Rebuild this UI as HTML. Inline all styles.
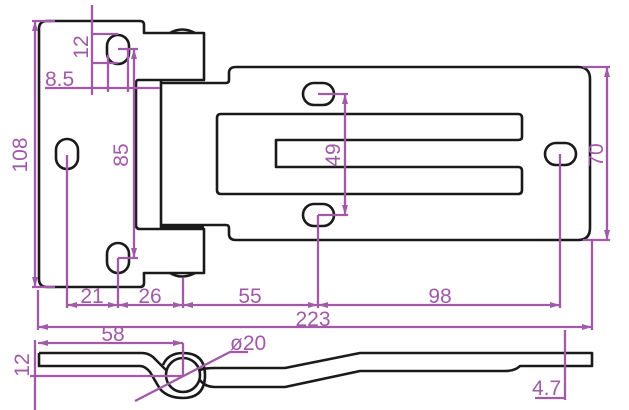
<!DOCTYPE html>
<html><head><meta charset="utf-8"><style>
html,body{margin:0;padding:0;background:#fff;}
svg{display:block;}
text{font-family:"Liberation Sans",sans-serif;fill:#a05aa8;font-size:21px;}
</style></head><body>
<svg width="629" height="410" viewBox="0 0 629 410" xmlns="http://www.w3.org/2000/svg">
<g fill="none" stroke="#1a1a1a" stroke-width="2.6" stroke-linejoin="round">
<path d="M47 21 H140 Q144 21 144 25 V33 H204 V80 H138 Q136 80 136 84 V225 Q136 229 140 229 H204 V273 H144 V283 Q144 287 140 287 H47 Q39 287 39 279 V29 Q39 21 47 21 Z"/>
<path d="M170 33 Q182 26 195 33"/><path d="M170 273 Q182 280 195 273"/>
<path d="M161 80 V229"/>
<path d="M161 83 H226 Q229 83 229 80 V73 Q229 67 236 67 H578 Q590 67 590 79 V228 Q590 240 578 240 H236 Q229 240 229 234 V228 Q229 225 226 225 H161" />
<path d="M161 226 H204" stroke-width="4"/>
<path d="M221 114 H518 Q522 114 522 118 V137 Q522 140 518 140 H276 V167 H518 Q522 167 522 171 V190 Q522 194 518 194 H221 Q217 194 217 190 V118 Q217 114 221 114 Z"/>
<rect x="107" y="35" width="22" height="29" rx="11"/>
<rect x="107" y="243" width="22" height="30" rx="11"/>
<rect x="56" y="139" width="22" height="30" rx="11"/>
<rect x="303" y="83" width="31" height="22" rx="11"/>
<rect x="303" y="204" width="31" height="22" rx="11"/>
<rect x="545" y="143" width="31" height="22" rx="11"/>
<path d="M39 353 H142 Q150 353 156 360 L166 370"/>
<path d="M39 353 V366 H140 Q145 366 150 372 L160 389 Q168 398 183 398 Q205 398 205 375 Q205 353 183 353 Q168 353 163 365"/>
<circle cx="183" cy="375" r="17"/>
<path d="M200 370 Q205 368 215 368 H285 L360 353 H592 V366 H520 Q515 371 505 371 H360 L285 387 H215 Q205 387 200 380"/>
</g>
<g stroke="#a05aa8" stroke-width="2.3" fill="none">
<path d="M35 21 V287 M32 21 H55 M32 287 H55"/>
<path d="M92 5 V95 M92 34 H118 M92 63 H118"/>
<path d="M45 88 H160 M108 55 V92 M128 48 V92"/>
<path d="M134 49 V258 M118 49 H138 M118 258 H138"/>
<path d="M345 94 V215 M318 94 H348 M318 215 H348"/>
<path d="M607 67 V240 M583 67 H610 M583 240 H610"/>
<path d="M67 155 V308 M118 258 V308 M183 278 V308 M318 215 V308 M560 154 V308"/>
<path d="M67 305 H560"/>
<path d="M38 290 V330 M592 240 V330 M38 327 H592"/>
<path d="M38 343 H183 M183 343 V375"/>
<path d="M35 340 V410 M30 376 H183"/>
<path d="M135 401 L230 352 H248"/>
<path d="M565 330 V400 M535 398 H565"/>
</g>
<g fill="#a05aa8">
<path d="M35 21 l-3 10 h6z M35 287 l-3 -10 h6z M134 49 l-3 10 h6z M134 258 l-3 -10 h6z M345 94 l-3 10 h6z M345 215 l-3 -10 h6z M607 67 l-3 10 h6z M607 240 l-3 -10 h6z"/>
<path d="M38 327 l10 -3 v6z M592 327 l-10 -3 v6z M38 343 l10 -3 v6z M183 343 l-10 -3 v6z"/>
<path d="M67 305 l10 -3 v6z M118 305 l-10 -3 v6z M118 305 l10 -3 v6z M183 305 l-10 -3 v6z M183 305 l10 -3 v6z M318 305 l-10 -3 v6z M318 305 l10 -3 v6z M560 305 l-10 -3 v6z"/>
</g>
<text x="27" y="155" transform="rotate(-90 27 155)" text-anchor="middle">108</text>
<text x="88" y="47" transform="rotate(-90 88 47)" text-anchor="middle">12</text>
<text x="45" y="86">8.5</text>
<text x="128" y="155" transform="rotate(-90 128 155)" text-anchor="middle">85</text>
<text x="340" y="155" transform="rotate(-90 340 155)" text-anchor="middle">49</text>
<text x="603" y="155" transform="rotate(-90 603 155)" text-anchor="middle">70</text>
<text x="92" y="303" text-anchor="middle">21</text>
<text x="150" y="303" text-anchor="middle">26</text>
<text x="250" y="303" text-anchor="middle">55</text>
<text x="440" y="303" text-anchor="middle">98</text>
<text x="313" y="326" text-anchor="middle">223</text>
<text x="113" y="341" text-anchor="middle">58</text>
<text x="230" y="350">ø20</text>
<text x="29" y="365" transform="rotate(-90 29 365)" text-anchor="middle">12</text>
<text x="532" y="395">4.7</text>
</svg>
</body></html>
